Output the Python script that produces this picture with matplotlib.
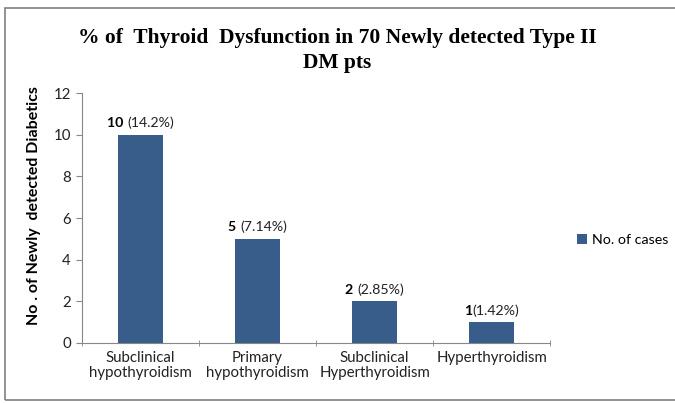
import matplotlib.pyplot as plt
from matplotlib.patches import Rectangle
import numpy as np

categories = ["Subclinical\nhypothyroidism", "Primary\nhypothyroidism",
              "Subclinical\nHyperthyroidism", "Hyperthyroidism"]
cases = [10, 5, 2, 1]
percent_labels = ["(14.2%)", "(7.14%)", "(2.85%)", "(1.42%)"]
count_labels = ["10 ", "5 ", "2 ", "1"]

bar_color = "#385D8A"
plt.rcParams["font.family"] = ["Lato", "DejaVu Sans"]

fig = plt.figure(figsize=(6.75, 4.03), dpi=100)
ax = fig.add_axes([0.1215, 0.149, 0.6935, 0.62])

x = np.arange(len(categories))
bars = ax.bar(x, cases, width=0.39, color=bar_color, label="No. of cases", zorder=3)

ax.set_xlim(-0.5, len(categories) - 0.5)
ax.set_ylim(0, 12)
ax.set_yticks(range(0, 13, 2))
ax.set_xticks(x)
ax.set_xticklabels(categories, fontsize=10.8, color="#222222", linespacing=1.1)
ax.set_xticks(np.arange(-0.5, len(categories), 1), minor=True)
ax.tick_params(axis="x", which="major", length=0, pad=6)
ax.tick_params(axis="x", which="minor", length=4, direction="inout", color="#888888")
ax.tick_params(axis="y", length=4, direction="out", color="#888888", labelsize=10.8,
               labelcolor="#222222", pad=4)
for s in ["top", "right"]:
    ax.spines[s].set_visible(False)
for s in ["left", "bottom"]:
    ax.spines[s].set_color("#888888")

ax.set_ylabel("No . of Newly  detected Diabetics", fontsize=11.5, fontweight="bold")
ax.yaxis.set_label_coords(-0.088, 0.55)

# value labels: bold count + normal percentage, centred on the bar
renderer = fig.canvas.get_renderer()
for xi, v, c, p in zip(x, cases, count_labels, percent_labels):
    tb = ax.annotate(c, (xi, v), xytext=(0, 4), textcoords="offset points",
                     ha="left", va="bottom", fontsize=10.2, fontweight="bold")
    tp = ax.annotate(p, (xi, v), xytext=(0, 4), textcoords="offset points",
                     ha="left", va="bottom", fontsize=10.2, color="#222222")
    wb = tb.get_window_extent(renderer).width
    wp = tp.get_window_extent(renderer).width
    total = wb + wp
    tb.set_position((-total / 2 * 72 / fig.dpi, 4))
    tp.set_position(((-total / 2 + wb) * 72 / fig.dpi, 4))

fig.text(0.5, 0.905, "% of  Thyroid  Dysfunction in 70 Newly detected Type II",
         ha="center", va="center", fontsize=15.5, fontweight="bold",
         family="Liberation Serif")
fig.text(0.5, 0.843, "DM pts", ha="center", va="center", fontsize=15.5,
         fontweight="bold", family="Liberation Serif")

fig.legend(handles=[bars], loc="center left", bbox_to_anchor=(0.835, 0.405),
           frameon=False, fontsize=10.3, handlelength=0.7, handleheight=0.7,
           handletextpad=0.4)

fig.patches.append(Rectangle((0.008, 0.007), 0.995, 0.973, transform=fig.transFigure,
                             fill=False, edgecolor="#808080", linewidth=1.2))

fig.savefig("out.png", dpi=100)
